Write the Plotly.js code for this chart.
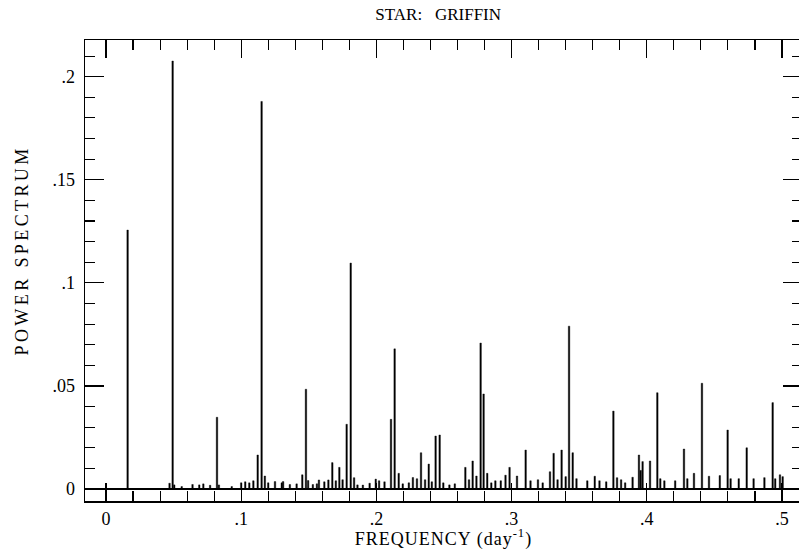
<!DOCTYPE html>
<html>
<head>
<meta charset="utf-8">
<script src="https://cdn.plot.ly/plotly-3.0.1.min.js"></script>
<style>
html, body { margin: 0; padding: 0; overflow: hidden; background: #fff; }
#chart { width: 807px; height: 550px; }
#chart .xtitle { letter-spacing: 1px; }
#chart .annotation-text { letter-spacing: 3.4px; }
</style>
</head>
<body>
<div id="chart"></div>
<script>
// Frequencies (day^-1) of spectral peaks
const peakFreq = [
  0.0160, 0.0470, 0.0493, 0.0505, 0.0560, 0.0640, 0.0690, 0.0720, 0.0770, 0.0821,
  0.0835, 0.0930, 0.1000, 0.1030, 0.1060, 0.1090, 0.1122, 0.1151, 0.1175, 0.1200,
  0.1250, 0.1300, 0.1310, 0.1360, 0.1410, 0.1452, 0.1479, 0.1495, 0.1530, 0.1560,
  0.1575, 0.1615, 0.1645, 0.1674, 0.1700, 0.1726, 0.1750, 0.1780, 0.1810, 0.1835,
  0.1860, 0.1900, 0.1950, 0.1995, 0.2020, 0.2060, 0.2108, 0.2135, 0.2165, 0.2195,
  0.2240, 0.2270, 0.2300, 0.2330, 0.2360, 0.2387, 0.2410, 0.2438, 0.2468, 0.2495,
  0.2540, 0.2580, 0.2658, 0.2685, 0.2712, 0.2740, 0.2771, 0.2793, 0.2820, 0.2850,
  0.2880, 0.2920, 0.2955, 0.2985, 0.3040, 0.3104, 0.3140, 0.3195, 0.3230, 0.3284,
  0.3311, 0.3340, 0.3370, 0.3400, 0.3425, 0.3452, 0.3480, 0.3560, 0.3615, 0.3650,
  0.3700, 0.3753, 0.3780, 0.3810, 0.3840, 0.3895, 0.3942, 0.3955, 0.3969, 0.4024,
  0.4078, 0.4100, 0.4130, 0.4210, 0.4275, 0.4300, 0.4349, 0.4408, 0.4460, 0.4540,
  0.4598, 0.4620, 0.4680, 0.4739, 0.4790, 0.4870, 0.4931, 0.4950, 0.4985, 0.5005
];
// Power at each peak
const peakPower = [
  0.1256, 0.0028, 0.2076, 0.0020, 0.0012, 0.0022, 0.0020, 0.0025, 0.0018, 0.0348,
  0.0020, 0.0012, 0.0030, 0.0035, 0.0030, 0.0040, 0.0165, 0.1880, 0.0063, 0.0030,
  0.0036, 0.0030, 0.0036, 0.0022, 0.0025, 0.0069, 0.0484, 0.0041, 0.0022, 0.0025,
  0.0044, 0.0035, 0.0044, 0.0128, 0.0040, 0.0105, 0.0045, 0.0314, 0.1096, 0.0055,
  0.0020, 0.0019, 0.0028, 0.0048, 0.0040, 0.0035, 0.0338, 0.0680, 0.0076, 0.0025,
  0.0030, 0.0056, 0.0050, 0.0176, 0.0045, 0.0121, 0.0035, 0.0257, 0.0262, 0.0030,
  0.0020, 0.0025, 0.0105, 0.0045, 0.0136, 0.0063, 0.0708, 0.0461, 0.0076, 0.0030,
  0.0040, 0.0040, 0.0067, 0.0105, 0.0063, 0.0189, 0.0040, 0.0045, 0.0030, 0.0084,
  0.0173, 0.0045, 0.0189, 0.0060, 0.0790, 0.0176, 0.0050, 0.0040, 0.0062, 0.0040,
  0.0035, 0.0378, 0.0055, 0.0045, 0.0030, 0.0057, 0.0165, 0.0090, 0.0133, 0.0136,
  0.0467, 0.0050, 0.0040, 0.0040, 0.0194, 0.0050, 0.0076, 0.0513, 0.0062, 0.0065,
  0.0286, 0.0050, 0.0050, 0.0200, 0.0050, 0.0055, 0.0419, 0.0050, 0.0069, 0.0060
];
const xLabelAlias = {'0.1': '.1', '0.2': '.2', '0.3': '.3', '0.4': '.4', '0.5': '.5'};
const yLabelAlias = {'0.05': '.05', '0.1': '.1', '0.15': '.15', '0.2': '.2'};

const fam = 'Liberation Serif, Times New Roman, serif';
const font = {family: fam, size: 18, color: '#000'};

const trace = {
  type: 'bar',
  x: peakFreq,
  y: peakPower,
  width: 0.0011,
  marker: {color: '#000', line: {color: '#000', width: 0.4}},
  hoverinfo: 'x+y'
};

const axisCommon = {
  showline: true, linecolor: '#000', linewidth: 1.5,
  mirror: 'allticks', ticks: 'inside', tickcolor: '#000', tickwidth: 1.2,
  showgrid: false, tickfont: font
};

const layout = {
  width: 807, height: 550,
  margin: {l: 85, r: 5, t: 40, b: 49},
  paper_bgcolor: '#fff', plot_bgcolor: '#fff',
  font: font,
  showlegend: false,
  bargap: 0,
  title: {
    text: 'STAR:&nbsp;&nbsp; GRIFFIN',
    font: {family: fam, size: 17, color: '#000'},
    xref: 'container', x: 0.543, xanchor: 'center',
    yref: 'container', y: 0.975, yanchor: 'middle'
  },
  xaxis: Object.assign({}, axisCommon, {
    range: [-0.01553, 0.5148],
    tickmode: 'linear', tick0: 0, dtick: 0.1, ticklen: 18,
    labelalias: xLabelAlias,
    zeroline: false,
    minor: {ticks: 'inside', dtick: 0.02, tick0: 0, ticklen: 10, tickcolor: '#000', tickwidth: 1.1, showgrid: false},
    ticklabelstandoff: 1,
    title: {text: 'FREQUENCY (day<sup>-1</sup>)', font: font, standoff: 6}
  }),
  yaxis: Object.assign({}, axisCommon, {
    range: [-0.00582, 0.2178],
    tickmode: 'linear', tick0: 0, dtick: 0.05, ticklen: 19,
    labelalias: yLabelAlias,
    zeroline: true, zerolinecolor: '#000', zerolinewidth: 1.4,
    minor: {ticks: 'inside', dtick: 0.01, tick0: 0, ticklen: 10, tickcolor: '#000', tickwidth: 1.1, showgrid: false},
    ticklabelstandoff: 5
  }),
  annotations: [{
    text: 'POWER SPECTRUM', textangle: -90, showarrow: false,
    font: font,
    xref: 'paper', yref: 'paper', x: -0.088, y: 0.545,
    xanchor: 'center', yanchor: 'middle'
  }]
};

Plotly.newPlot('chart', [trace], layout, {displayModeBar: false, staticPlot: true});
</script>
</body>
</html>
